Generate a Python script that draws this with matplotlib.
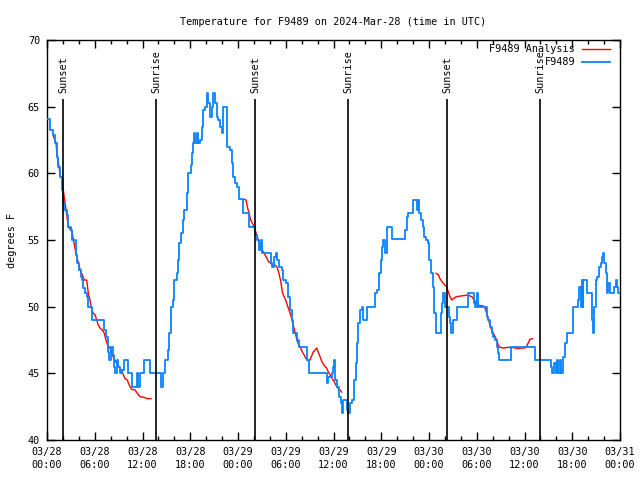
import numpy as np
import matplotlib
matplotlib.use("Agg")
import matplotlib.pyplot as plt

# ---- data (hours since 2024-03-28 00:00 UTC, degrees F) ----
obs_hours = [0.16,0.38,0.72,1.01,1.22,1.42,1.63,1.85,1.97,2.14,2.48,2.68,2.98,3.18,3.43,3.61,3.81,4.02,4.23,4.44,
             4.56,4.78,4.99,5.19,5.62,5.69,7.0,7.16,7.38,7.63,7.75,8.0,8.26,8.42,8.54,8.76,8.96,9.17,9.39,9.68,
             10.02,10.22,10.52,10.72,11.06,11.27,11.47,11.69,11.98,12.19,12.73,12.94,13.7,13.99,14.29,14.61,14.83,
             15.24,15.37,15.54,15.8,15.96,16.17,16.3,16.42,16.62,16.8,17.05,17.25,17.55,17.76,18.06,18.18,18.31,
             18.47,18.64,18.81,19.01,19.23,19.44,19.64,19.85,20.07,20.27,20.48,20.69,20.9,21.11,21.33,21.53,21.74,
             21.95,22.15,22.46,22.66,23.0,23.21,23.41,23.62,23.84,24.16,24.67,25.17,25.42,25.92,26.14,26.43,26.64,
             26.89,27.05,27.93,28.11,28.31,28.52,28.74,28.94,29.15,29.49,29.69,30.03,30.32,30.54,30.75,30.95,31.16,
             31.38,31.67,32.42,32.71,32.92,34.93,35.14,35.27,35.56,35.78,35.9,36.06,36.19,36.4,36.69,36.91,37.03,
             37.23,37.53,37.66,37.86,38.07,38.29,38.58,38.79,38.92,39.12,39.33,39.55,39.75,39.96,40.25,41.0,41.22,
             41.51,41.76,41.93,42.13,42.26,42.47,42.69,43.1,43.32,44.77,44.99,45.2,45.4,45.83,46.03,46.33,46.46,
             46.66,46.78,46.99,47.21,47.41,47.63,47.84,48.04,48.25,48.47,48.67,48.88,49.3,49.47,49.64,49.8,49.98,
             50.3,50.48,50.64,50.81,50.98,51.27,51.48,52.65,52.87,53.49,53.66,53.82,54.0,54.12,55.04,55.25,55.45,
             55.67,55.88,56.08,56.3,56.51,56.71,56.84,58.09,58.27,61.11,61.32,63.12,63.33,63.46,63.62,63.75,63.92,
             64.09,64.25,64.43,64.6,64.79,64.89,65.1,65.31,65.94,66.07,66.14,66.64,66.77,66.9,67.07,67.2,67.3,67.4,
             67.61,67.83,68.32,68.49,68.66,68.78,68.95,69.15,69.36,69.58,69.78,69.9,70.03,70.2,70.33,70.53,70.74,
             71.08,71.25,71.46,71.59,71.71,72.0]
obs_temp = [64.07,63.25,62.9,62.3,61.2,60.5,59.7,58.75,57.8,57.25,56.9,56.0,55.75,55.0,55.0,53.9,53.3,52.75,52.25,52.0,
            51.4,51.0,50.75,50.0,50.0,49.0,49.0,48.25,47.75,46.6,46.0,47.0,46.4,45.5,45.0,46.0,45.5,45.0,45.25,46.0,
            46.0,45.0,45.0,44.0,44.0,45.0,44.0,45.0,45.0,46.0,46.0,45.0,45.0,45.0,44.0,45.0,46.0,
            46.75,48.0,50.0,50.5,52.0,52.0,52.5,53.5,54.75,55.5,56.5,57.25,58.5,60.0,60.6,61.5,62.25,
            63.0,62.25,63.0,62.25,62.5,63.5,64.75,65.0,66.0,65.25,64.25,65.0,66.0,65.25,64.25,64.0,63.5,
            63.0,65.0,65.0,62.0,61.75,60.75,59.75,59.25,59.0,58.1,57.0,57.0,56.0,56.0,55.4,55.0,54.25,
            55.0,54.0,54.0,53.25,53.0,53.75,54.0,53.5,53.0,52.75,52.0,51.75,50.75,49.75,49.0,48.0,48.0,
            47.5,47.0,47.0,46.0,45.0,45.0,44.25,44.75,44.75,45.0,45.5,46.0,44.5,44.0,43.25,42.75,42.0,
            43.0,43.0,42.25,42.0,42.75,43.0,44.5,45.75,47.25,48.75,49.75,50.0,49.0,49.0,50.0,50.0,51.0,
            51.25,52.5,53.5,54.5,55.0,54.0,56.0,56.0,55.1,55.1,55.75,56.75,57.0,57.0,58.0,58.0,57.25,
            58.0,57.0,56.5,56.0,55.25,55.0,54.75,53.5,52.5,51.5,49.5,48.0,48.0,49.5,50.25,51.0,50.0,
            50.0,49.25,48.75,48.0,49.0,49.0,50.0,50.0,51.0,51.0,50.25,50.0,51.0,50.0,50.0,49.25,49.0,
            48.5,48.0,47.75,47.5,47.0,46.5,46.0,46.0,47.0,47.0,46.0,46.0,45.5,45.0,45.0,45.75,45.0,
            46.0,45.0,46.0,45.0,45.0,46.25,47.25,48.0,48.0,48.5,50.0,50.0,50.5,51.5,50.0,52.0,50.0,52.0,
            52.0,51.0,51.0,49.0,48.0,50.0,52.0,52.25,53.0,53.25,53.75,54.0,53.25,52.5,51.0,51.75,51.0,
            51.0,51.5,52.0,51.5,51.0,51.0]

ana_hours = [0.79,1.13,1.29,1.51,1.72,1.97,2.05,2.26,2.48,2.68,3.14,3.64,4.15,4.69,4.99,5.19,5.4,5.62,5.82,6.03,
             6.25,6.45,6.66,6.95,7.2,7.41,7.63,7.92,8.13,8.42,8.76,9.17,9.59,9.8,10.09,10.34,10.64,11.06,11.35,
             11.69,12.19,12.6,13.07,
             np.nan,
             24.79,25.01,25.17,25.38,25.6,25.8,26.01,26.23,26.43,26.64,26.85,27.18,27.52,27.81,28.11,28.44,28.74,
             28.94,29.15,29.37,29.57,29.78,29.99,30.2,30.41,30.62,30.82,31.04,31.25,31.45,31.67,31.88,32.08,32.29,
             32.55,32.76,33.05,33.26,33.46,33.68,33.89,34.09,34.31,34.52,34.81,35.14,35.35,35.56,35.85,36.06,36.32,
             36.53,36.82,37.03,
             np.nan,
             48.88,49.17,49.38,49.6,49.8,50.01,50.22,50.43,50.64,50.86,51.06,51.27,51.48,51.99,52.65,52.94,53.15,
             53.37,53.57,53.78,54.0,54.2,54.83,55.04,55.25,55.45,55.67,55.88,56.08,56.3,56.51,56.71,56.92,57.34,
             57.97,58.39,58.81,59.22,59.65,60.07,60.28,60.48,60.69,60.98]
ana_temp = [62.8,62.3,61.25,60.5,59.7,59.6,58.75,57.8,56.9,56.0,55.6,54.0,52.8,52.0,52.0,51.0,50.5,49.75,49.5,49.4,
            49.0,48.6,48.4,48.25,48.0,47.5,47.1,46.9,46.5,46.1,45.75,45.4,44.9,44.6,44.5,44.1,43.8,43.75,43.5,
            43.25,43.2,43.1,43.1,
            np.nan,
            58.05,58.0,57.5,57.0,56.5,56.25,56.0,55.6,55.25,54.75,54.5,54.1,53.75,53.4,53.25,53.1,53.1,
            52.9,52.5,51.9,51.1,50.75,50.5,50.1,49.75,49.4,48.9,48.4,47.9,47.4,47.1,46.9,46.6,46.4,
            46.1,45.95,46.0,46.3,46.6,46.75,46.9,46.6,46.25,45.9,45.6,45.4,45.1,44.9,44.6,44.4,44.1,
            43.9,43.75,43.6,
            np.nan,
            52.5,52.4,52.1,51.9,51.75,51.6,51.5,51.1,50.75,50.5,50.6,50.7,50.75,50.8,50.85,50.9,50.8,
            50.75,50.6,50.4,50.2,50.1,50.05,49.9,49.5,49.1,48.6,48.25,48.0,47.75,47.5,47.1,46.95,46.9,
            46.95,46.95,46.9,46.85,46.9,46.9,47.05,47.3,47.55,47.6]

sun_hours = [2.01, 13.7, 26.14, 37.82, 50.27, 61.95]
sun_labels = ["Sunset", "Sunrise", "Sunset", "Sunrise", "Sunset", "Sunrise"]

xtick_hours = [0, 6, 12, 18, 24, 30, 36, 42, 48, 54, 60, 66, 72]
xtick_labels = ["03/28\n00:00", "03/28\n06:00", "03/28\n12:00", "03/28\n18:00",
                "03/29\n00:00", "03/29\n06:00", "03/29\n12:00", "03/29\n18:00",
                "03/30\n00:00", "03/30\n06:00", "03/30\n12:00", "03/30\n18:00",
                "03/31\n00:00"]
ytick_vals = [40, 45, 50, 55, 60, 65, 70]

title = "Temperature for F9489 on 2024-Mar-28 (time in UTC)"
ana_name = "F9489 Analysis"
obs_name = "F9489"

# ---- style ----
FS = 7.3
plt.rcParams['font.family'] = ['DejaVu Sans Mono']
plt.rcParams['font.size'] = FS
RED = '#ff0000'
BLUE = '#0a84ff'

fig = plt.figure(figsize=(6.4, 4.8), dpi=100)
ax = fig.add_axes([47/640, 1-440/480, (620-47)/640, 400/480])

ax.plot(obs_hours, obs_temp, color=BLUE, lw=1.3, drawstyle='steps-post', zorder=3)
ax.plot(ana_hours, ana_temp, color=RED, lw=1.0, zorder=2)

for h, lab in zip(sun_hours, sun_labels):
    ax.vlines(h, 40, 65.6, color='black', lw=1.2, zorder=4)
    ax.text(h, 66.0, lab, rotation=90, ha='center', va='bottom', fontsize=FS, zorder=5)

ax.set_xlim(0, 72)
ax.set_ylim(40, 70)
ax.set_xticks(xtick_hours)
ax.set_xticklabels(xtick_labels, linespacing=1.35)
ax.set_xticks(np.arange(0, 73, 2), minor=True)
ax.set_yticks(ytick_vals)
ax.tick_params(axis='both', which='major', direction='in', length=6, width=1,
               top=True, right=True, labelsize=FS, pad=5)
ax.tick_params(axis='x', which='minor', direction='in', length=3, width=1, top=True)
for s in ax.spines.values():
    s.set_linewidth(1.0)

ax.set_title(title, fontsize=FS, pad=11)
ax.set_ylabel("degrees F", fontsize=FS, labelpad=8)

# legend (right aligned text, like gnuplot)
lx_text = (575-47)/573
ly1 = (440-49)/400
ly2 = (440-62)/400
ax.text(lx_text, ly1, ana_name, transform=ax.transAxes, ha='right', va='center', fontsize=FS, zorder=6)
ax.text(lx_text, ly2, obs_name, transform=ax.transAxes, ha='right', va='center', fontsize=FS, zorder=6)
ax.plot([(582-47)/573, (610-47)/573], [ly1, ly1], transform=ax.transAxes, color=RED, lw=1.0, zorder=6)
ax.plot([(582-47)/573, (610-47)/573], [ly2, ly2], transform=ax.transAxes, color=BLUE, lw=1.3, zorder=6)

fig.savefig("out.png", dpi=100)
